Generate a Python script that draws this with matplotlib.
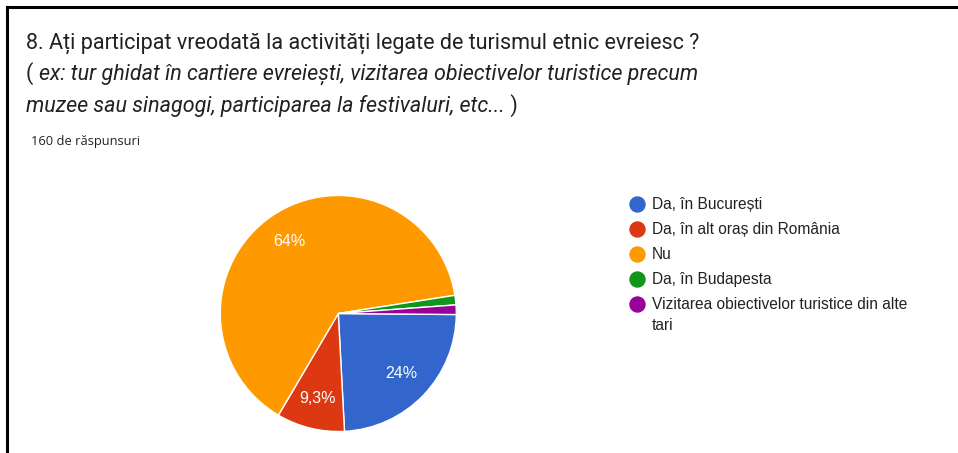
import matplotlib
matplotlib.use("Agg")
import matplotlib.pyplot as plt
from matplotlib.lines import Line2D
import numpy as np

# ---- data ----
categories = ["Da, în București", "Da, în alt oraș din România", "Nu",
              "Da, în Budapesta", "Vizitarea obiectivelor turistice din alte\ntari"]
values = [24, 9.3, 64, 1.3, 1.3]
pct_labels = ["24%", "9,3%", "64%", "", ""]
colors = ["#3366CC", "#DC3912", "#FF9900", "#109618", "#990099"]

title_line1 = "8. Ați participat vreodată la activități legate de turismul etnic evreiesc ?"
title_line2a = "( "
title_line2b = "ex: tur ghidat în cartiere evreiești, vizitarea obiectivelor turistice precum"
title_line3a = "muzee sau sinagogi, participarea la festivaluri, etc..."
title_line3b = " )"
subtitle = "160 de răspunsuri"

W, H = 958, 453
fig = plt.figure(figsize=(W / 100, H / 100), dpi=100)
fig.patch.set_facecolor("white")

def fx(x):
    return x / W

def fy(y):
    return 1 - y / H

# border lines (left and top)
fig.add_artist(Line2D([fx(7), fx(7)], [fy(7), 0], color="black", lw=2.2, transform=fig.transFigure))
fig.add_artist(Line2D([fx(7), 1], [fy(7), fy(7)], color="black", lw=2.2, transform=fig.transFigure))

tc = "#202124"
fs_title = 15.5
fig.text(fx(26), fy(43), title_line1, fontsize=fs_title, family="Roboto", color=tc, va="center", ha="left")
t2 = fig.text(fx(26), fy(74), title_line2a, fontsize=fs_title, family="Roboto", color=tc, va="center", ha="left")
fig.canvas.draw()
r = fig.canvas.get_renderer()
bb = t2.get_window_extent(r)
fig.text(bb.x1 / W, fy(74), title_line2b, fontsize=fs_title, family="Roboto", style="italic",
         color=tc, va="center", ha="left")
t3 = fig.text(fx(26), fy(106), title_line3a, fontsize=fs_title, family="Roboto", style="italic",
              color=tc, va="center", ha="left")
fig.canvas.draw()
bb3 = t3.get_window_extent(r)
fig.text(bb3.x1 / W, fy(106), title_line3b, fontsize=fs_title, family="Roboto", color=tc,
         va="center", ha="left")

fig.text(fx(31), fy(141), subtitle, fontsize=9.3, family="Open Sans", color="#222222",
         va="center", ha="left")

# pie
cx, cy, rad = 338.3, 313.5, 118
ax = fig.add_axes([fx(cx - rad), (H - cy - rad) / H, 2 * rad / W, 2 * rad / H])
wedges, texts = ax.pie(values, colors=colors, startangle=-0.5, counterclock=False,
                       wedgeprops=dict(edgecolor="white", linewidth=1.0), radius=1.0)
for w, lab in zip(wedges, pct_labels):
    if not lab:
        continue
    ang = np.deg2rad((w.theta1 + w.theta2) / 2)
    rr = 0.74
    ax.text(rr * np.cos(ang), rr * np.sin(ang), lab, color="white", fontsize=11.5,
            family="Liberation Sans", ha="center", va="center")
ax.set_xlim(-1, 1)
ax.set_ylim(-1, 1)
ax.set_aspect("equal")
ax.axis("off")

# legend
leg_y = [204, 229, 254, 279, 304]
for yy, lab, c in zip(leg_y, categories, colors):
    fig.add_artist(Line2D([fx(636.5)], [fy(yy)], marker="o", markersize=10.8, color=c,
                          linestyle="none", transform=fig.transFigure))
    for k, part in enumerate(lab.split("\n")):
        fig.text(fx(651.5), fy(yy + 0.5 + 21 * k), part, fontsize=11.2, family="Liberation Sans",
                 color="#222222", va="center", ha="left")

fig.savefig("out.png", dpi=100, facecolor="white")
